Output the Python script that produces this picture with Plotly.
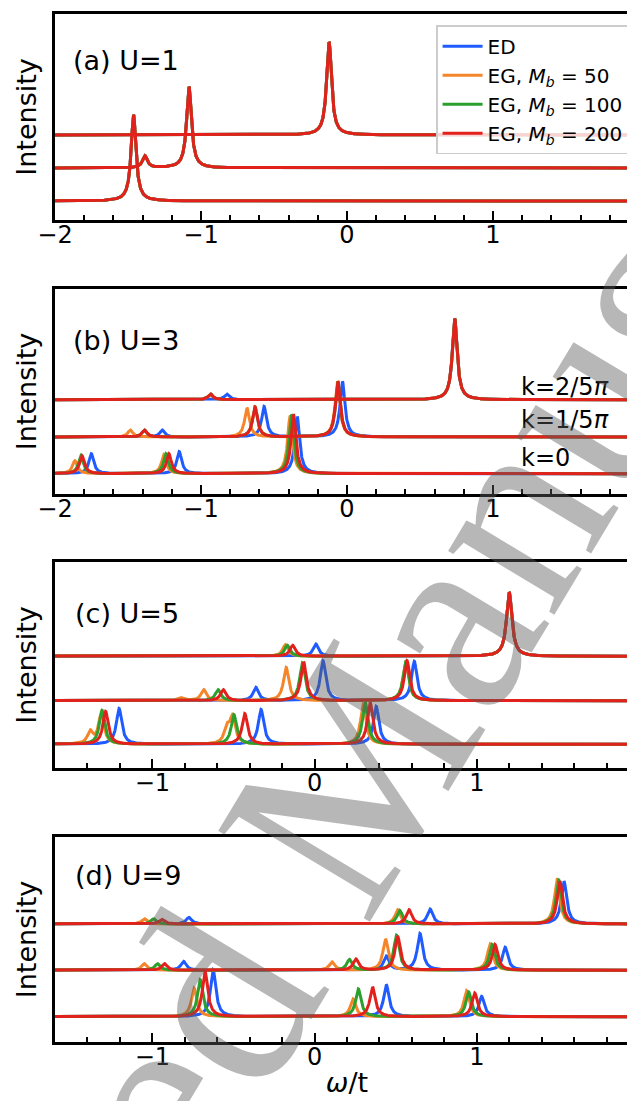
import numpy as np
import plotly.graph_objects as go

# ---------------- data (peak positions in omega/t, peak heights, arbitrary units) --------------
SERIES = ["ED", "EG, <i>M</i><sub><i>b</i></sub> = 50", "EG, <i>M</i><sub><i>b</i></sub> = 100",
          "EG, <i>M</i><sub><i>b</i></sub> = 200"]
COLORS = ["#1f5bff", "#f5852a", "#2ca02c", "#e3211c"]
K_LABELS = ["k=0", "k=1/5<i>π</i>", "k=2/5<i>π</i>"]
PANEL_LABELS = ["(a) U=1", "(b) U=3", "(c) U=5", "(d) U=9"]
X_RANGES = [[-2, 2], [-2, 2], [-1.6, 2], [-1.6, 2]]
X_TICKS = [-2, -1, 0, 1, 2]

# offsets of the k=0, k=1/5pi, k=2/5pi curves
A_OFFSETS = [0, 33, 66]
B_OFFSETS = [0, 36.7, 74]
C_OFFSETS = [0, 43.6, 88]
D_OFFSETS = [0, 46.4, 92.7]
Y_RANGES = [[-19, 187], [-20.3, 184.7], [-23.7, 182.3], [-25.3, 179.7]]

# panel (a) U=1 : [k=0, k=1/5pi, k=2/5pi], each a list of (omega, height)
A_ED = [[(-1.462, 86)], [(-1.384, 12), (-1.082, 81)], [(-0.123, 93)]]
A_EG50 = [[(-1.462, 86)], [(-1.384, 12), (-1.082, 81)], [(-0.123, 93)]]
A_EG100 = [[(-1.462, 86)], [(-1.384, 12), (-1.082, 81)], [(-0.123, 93)]]
A_EG200 = [[(-1.462, 86)], [(-1.384, 12), (-1.082, 81)], [(-0.123, 93)]]

# panel (b) U=3
B_ED = [[(-1.751, 20), (-1.149, 22), (-0.341, 57)],
        [(-1.265, 7), (-0.568, 30.5), (-0.031, 55.5)],
        [(-0.824, 5.7), (0.738, 81)]]
B_EG50 = [[(-1.864, 13), (-1.254, 19), (-0.39, 58)],
          [(-1.484, 7), (-0.685, 29), (-0.065, 55.5)],
          [(-0.935, 5.7), (0.738, 81)]]
B_EG100 = [[(-1.823, 18), (-1.24, 20), (-0.38, 59)],
           [(-1.387, 7), (-0.63, 30), (-0.062, 55.5)],
           [(-0.935, 5.7), (0.738, 81)]]
B_EG200 = [[(-1.815, 18), (-1.22, 20), (-0.366, 59)],
           [(-1.387, 7), (-0.63, 30), (-0.062, 55.5)],
           [(-0.935, 5.7), (0.738, 81)]]

# panel (c) U=5
C_ED = [[(-1.205, 35.7), (-0.33, 34.7), (0.38, 38)],
        [(-0.362, 13.3), (0.052, 40), (0.615, 39.3)],
        [(0.008, 12.3), (1.2, 64)]]
C_EG50 = [[(-1.383, 12), (-1.315, 31), (-0.54, 15), (-0.505, 26), (0.30, 40)],
          [(-0.825, 3), (-0.683, 11), (-0.175, 33.3), (0.5625, 40)],
          [(-0.18, 11.7), (1.2, 64)]]
C_EG100 = [[(-1.31, 34), (-0.497, 29.7), (0.3125, 42)],
           [(-0.595, 11), (-0.075, 37.7), (0.5625, 40)],
           [(-0.168, 11), (1.2, 64)]]
C_EG200 = [[(-1.288, 33), (-0.43, 30.7), (0.3425, 42)],
           [(-0.5625, 11), (-0.0675, 38.7), (0.57, 40)],
           [(-0.135, 11), (1.2, 64)]]

# panel (d) U=9
D_ED = [[(-0.625, 47), (0.4425, 32), (1.03, 20.3)],
        [(-0.8075, 9), (0.4425, 14), (0.65, 36.7), (1.175, 23)],
        [(-0.775, 6.7), (0.7125, 15), (1.5375, 42.7)]]
D_EG50 = [[(-0.7425, 28.7), (0.2375, 17.7), (0.9375, 26)],
          [(-1.05, 6.7), (0.1075, 8.3), (0.4375, 31.3), (1.0825, 26.3)],
          [(-1.05, 5.3), (0.5125, 14.3), (1.495, 44)]]
D_EG100 = [[(-0.705, 37), (0.27, 27.7), (0.95, 24.7)],
           [(-0.9675, 6.7), (0.215, 10.7), (0.505, 35), (1.095, 26)],
           [(-0.9925, 5.3), (0.525, 13.7), (1.505, 44)]]
D_EG200 = [[(-0.675, 45.3), (0.3575, 29.7), (0.9875, 23.7)],
           [(-0.925, 6.7), (0.255, 11.3), (0.5125, 34), (1.1125, 25.7)],
           [(-0.9425, 4.7), (0.5825, 14.3), (1.5125, 42.7)]]

PANELS = [
    (A_OFFSETS, [A_ED, A_EG50, A_EG100, A_EG200]),
    (B_OFFSETS, [B_ED, B_EG50, B_EG100, B_EG200]),
    (C_OFFSETS, [C_ED, C_EG50, C_EG100, C_EG200]),
    (D_OFFSETS, [D_ED, D_EG50, D_EG100, D_EG200]),
]

# ---------------- spectra (Lorentzian broadening) ----------------
OMEGA = np.linspace(-2.05, 2.05, 4101)
GAMMA = 0.02


def spectrum(peaks):
    y = np.zeros_like(OMEGA)
    for w0, h in peaks:
        y += h * GAMMA ** 2 / ((OMEGA - w0) ** 2 + GAMMA ** 2)
    return y


# ---------------- figure ----------------
W, H = 635, 1101
ML, MR, MT, MB = 47, 4, 6, 67
plot_h = H - MT - MB
FRAMES = [(6, 212), (281, 486), (554, 760), (829, 1034)]

fig = go.Figure()
for p, (offsets, series) in enumerate(PANELS):
    xa = "x" if p == 0 else f"x{p + 1}"
    ya = "y" if p == 0 else f"y{p + 1}"
    for s, peaks_by_k in enumerate(series):
        for k, peaks in enumerate(peaks_by_k):
            fig.add_trace(go.Scatter(
                x=OMEGA, y=spectrum(peaks) + offsets[k], mode="lines",
                line=dict(color=COLORS[s], width=3),
                name=SERIES[s], legendgroup=SERIES[s],
                showlegend=(p == 0 and k == 0),
                xaxis=xa, yaxis=ya, hoverinfo="skip"))

layout = dict(
    width=W, height=H, margin=dict(l=ML, r=MR, t=MT, b=MB, autoexpand=False),
    plot_bgcolor="white", paper_bgcolor="white",
    font=dict(family="DejaVu Sans", size=24, color="black"),
    showlegend=True,
    legend=dict(x=0.983, xanchor="right", y=0.989, yanchor="top",
                bgcolor="rgba(255,255,255,0.8)", bordercolor="#cccccc", borderwidth=1.5,
                font=dict(size=20), tracegroupgap=0, itemwidth=40),
)
for p in range(4):
    top, bot = FRAMES[p]
    dom = [(H - MB - bot) / plot_h, (H - MB - top) / plot_h]
    xk = "xaxis" if p == 0 else f"xaxis{p + 1}"
    yk = "yaxis" if p == 0 else f"yaxis{p + 1}"
    ya = "y" if p == 0 else f"y{p + 1}"
    xa = "x" if p == 0 else f"x{p + 1}"
    layout[xk] = dict(domain=[0, 1], anchor=ya, range=X_RANGES[p], tickvals=X_TICKS,
                      ticks="inside", ticklen=9, tickwidth=1.8, tickcolor="black",
                      minor=dict(dtick=0.2, tick0=0, ticks="inside", ticklen=5, tickwidth=1.8,
                                 tickcolor="black"),
                      showline=True, linecolor="black", linewidth=2.5, mirror=True,
                      showgrid=False, zeroline=False, tickfont=dict(size=24),
                      ticklabeloverflow="allow", ticklabelstandoff=-9, automargin=False)
    layout[yk] = dict(domain=dom, anchor=xa, range=Y_RANGES[p], showticklabels=False,
                      ticks="", showline=True, linecolor="black", linewidth=2.5, mirror=True,
                      showgrid=False, zeroline=False, automargin=False,
                      title=dict(text="Intensity", font=dict(size=27), standoff=8))
layout["xaxis4"]["title"] = dict(text="<i>ω</i>/t", font=dict(size=27), standoff=4)
fig.update_layout(**layout)

# panel labels
LABEL_POS = [(0.027, 0.772), (0.027, 0.748), (0.031, 0.752), (0.031, 0.81)]
for p in range(4):
    xa = "x" if p == 0 else f"x{p + 1}"
    ya = "y" if p == 0 else f"y{p + 1}"
    fig.add_annotation(text=PANEL_LABELS[p], xref=f"{xa} domain", yref=f"{ya} domain",
                       x=LABEL_POS[p][0], y=LABEL_POS[p][1], xanchor="left", yanchor="middle",
                       showarrow=False, font=dict(size=27))

# k labels in panel (b)
K_LABEL_Y = [15.7, 54, 86.7]
for k in range(3):
    fig.add_annotation(text=K_LABELS[k], xref="x2", yref="y2", x=1.18, y=K_LABEL_Y[k],
                       xanchor="left", yanchor="middle", showarrow=False, font=dict(size=24))

# watermark
fig.add_annotation(text="Accepted Manuscript", xref="paper", yref="paper", x=0.462, y=0.216,
                   xanchor="center", yanchor="middle", showarrow=False, textangle=-59,
                   font=dict(family="Liberation Serif", size=270, color="rgba(90,90,90,0.44)"))

fig.write_html("out.html")
